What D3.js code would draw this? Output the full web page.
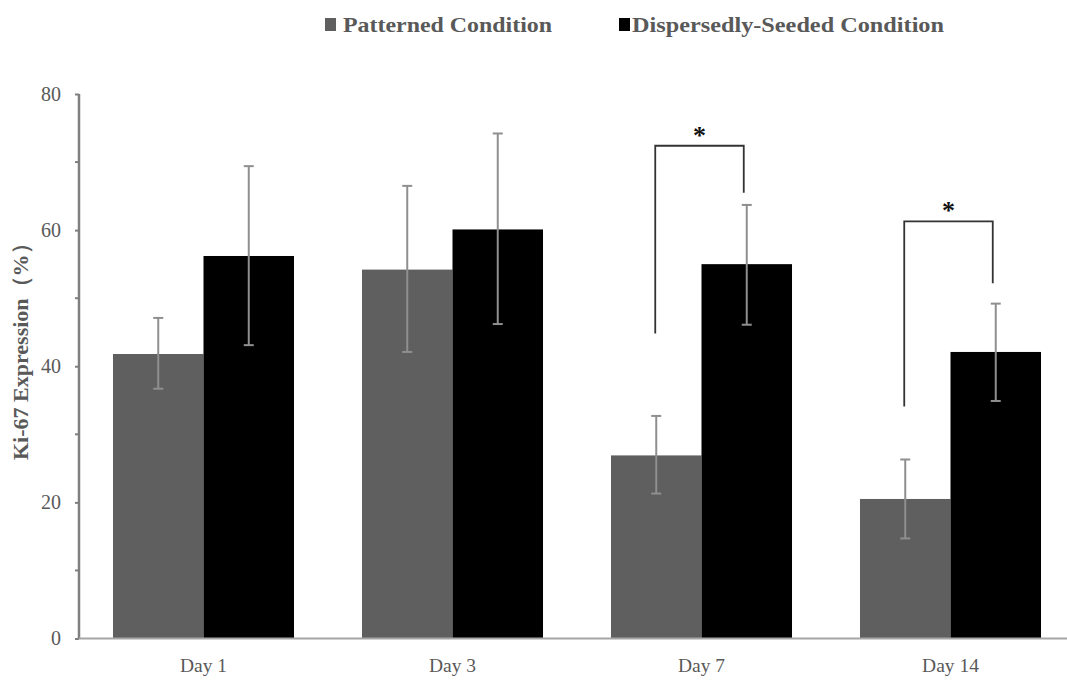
<!DOCTYPE html>
<html>
<head>
<meta charset="utf-8" />
<title>Ki-67 Expression</title>
<script src="https://d3js.org/d3.v7.min.js"></script>
<style>
  body { margin: 0; background: #fff; }
  text { font-family: "Liberation Serif", "Times New Roman", serif; }
</style>
</head>
<body>
<svg id="chart" width="1067" height="681"></svg>
<script>
// chart values
var days = ["Day 1", "Day 3", "Day 7", "Day 14"];
var seriesNames = ["Patterned Condition", "Dispersedly-Seeded Condition"];
var patterned = [41.8, 54.2, 26.9, 20.5];
var patternedLow = [36.7, 42.1, 21.3, 14.7];
var patternedHigh = [47.1, 66.5, 32.7, 26.3];
var seeded = [56.2, 60.1, 55.0, 42.1];
var seededLow = [43.1, 46.2, 46.1, 34.9];
var seededHigh = [69.4, 74.2, 63.7, 49.2];
var yTicks = [0, 20, 40, 60, 80];
var yMinorTicks = [10, 30, 50, 70];
// significance brackets: day, top, left end, right end
var sigDays = ["Day 7", "Day 14"];
var sigTop = [72.4, 61.3];
var sigLeftEnd = [44.8, 34.1];
var sigRightEnd = [65.5, 52.2];

var colors = ["#5f5f5f", "#000000"];

var svg = d3.select("#chart");

var x = d3.scaleBand().domain(days).range([79, 1075]).paddingInner(0.273).paddingOuter(0.1365);
var xs = d3.scaleBand().domain([0, 1]).range([0, x.bandwidth()]);
var y = d3.scaleLinear().domain([0, 80]).range([638.5, 94]);

var rows = days.map(function(d, i) {
  return [
    {day: d, s: 0, v: patterned[i], lo: patternedLow[i], hi: patternedHigh[i]},
    {day: d, s: 1, v: seeded[i], lo: seededLow[i], hi: seededHigh[i]}
  ];
}).flat();

// bars
svg.append("g").selectAll("rect")
  .data(rows)
  .enter().append("rect")
    .attr("x", function(d) { return x(d.day) + xs(d.s); })
    .attr("y", function(d) { return y(d.v); })
    .attr("width", xs.bandwidth())
    .attr("height", function(d) { return y(0) - y(d.v); })
    .attr("fill", function(d) { return colors[d.s]; });

// error bars
var eb = svg.append("g").attr("stroke", "#8f8f8f").attr("stroke-width", 2);
rows.forEach(function(d) {
  var cx = x(d.day) + xs(d.s) + xs.bandwidth() / 2;
  eb.append("line").attr("x1", cx).attr("x2", cx).attr("y1", y(d.lo)).attr("y2", y(d.hi));
  eb.append("line").attr("x1", cx - 5).attr("x2", cx + 5).attr("y1", y(d.lo)).attr("y2", y(d.lo));
  eb.append("line").attr("x1", cx - 5).attr("x2", cx + 5).attr("y1", y(d.hi)).attr("y2", y(d.hi));
});

// y axis
var yAxis = svg.append("g")
  .attr("transform", "translate(79,0)")
  .call(d3.axisLeft(y).tickValues(yTicks).tickSize(4).tickPadding(14));
yAxis.select(".domain").attr("stroke", "#7f7f7f").attr("stroke-width", 2.5).attr("d", "M0," + y(0) + "V" + y(80));
yAxis.selectAll(".tick line").attr("stroke", "#7f7f7f").attr("stroke-width", 2);
yAxis.selectAll(".tick text").attr("fill", "#595959").style("font-size", "20px");
svg.append("g").selectAll("line")
  .data(yMinorTicks)
  .enter().append("line")
    .attr("x1", 75).attr("x2", 79)
    .attr("y1", function(d) { return y(d); })
    .attr("y2", function(d) { return y(d); })
    .attr("stroke", "#7f7f7f").attr("stroke-width", 2);

// x axis
var xAxis = svg.append("g")
  .attr("transform", "translate(0," + y(0) + ")")
  .call(d3.axisBottom(x).tickSize(0).tickPadding(20));
xAxis.select(".domain").attr("stroke", "#a6a6a6").attr("stroke-width", 2).attr("d", "M79,0H1067");
xAxis.selectAll(".tick text").attr("fill", "#595959").style("font-size", "19.5px");

// y title
svg.append("text")
  .attr("transform", "translate(28,460) rotate(-90)")
  .attr("text-anchor", "start")
  .attr("fill", "#595959")
  .style("font-size", "22px")
  .style("font-weight", "bold")
  .text("Ki-67 Expression（%）");

// significance brackets
var br = svg.append("g");
sigDays.forEach(function(d, i) {
  var x1 = x(d) + xs(0) + xs.bandwidth() / 2 - 1;
  var x2 = x(d) + xs(1) + xs.bandwidth() / 2 - 3;
  br.append("path")
    .attr("d", "M" + x1 + "," + y(sigLeftEnd[i]) + "V" + y(sigTop[i]) + "H" + x2 + "V" + y(sigRightEnd[i]))
    .attr("fill", "none").attr("stroke", "#333").attr("stroke-width", 1.8);
  br.append("text")
    .attr("x", (x1 + x2) / 2).attr("y", y(sigTop[i]) - 2)
    .attr("text-anchor", "middle")
    .attr("fill", "#111")
    .style("font-size", "26px").style("font-weight", "bold")
    .text("*");
});

// legend
var legX = [325, 619];
var legTextX = [343, 632];
var legW = [209, 312];
var lg = svg.append("g");
seriesNames.forEach(function(n, i) {
  lg.append("rect").attr("x", legX[i]).attr("y", 18).attr("width", 11).attr("height", 13).attr("fill", colors[i]);
  lg.append("text")
    .attr("x", legTextX[i]).attr("y", 32)
    .attr("fill", "#595959")
    .attr("textLength", legW[i])
    .attr("lengthAdjust", "spacingAndGlyphs")
    .style("font-size", "22px").style("font-weight", "bold")
    .text(n);
});
</script>
</body>
</html>
